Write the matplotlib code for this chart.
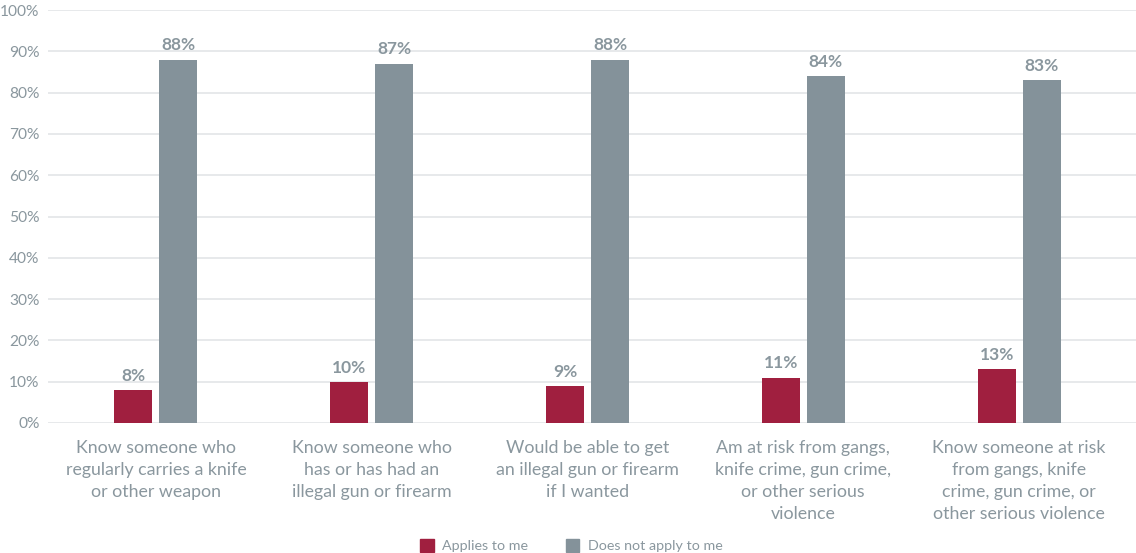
import matplotlib
matplotlib.use("Agg")
import matplotlib.pyplot as plt
import numpy as np
from matplotlib.patches import Patch

categories = [
    "Know someone who\nregularly carries a knife\nor other weapon",
    "Know someone who\nhas or has had an\nillegal gun or firearm",
    "Would be able to get\nan illegal gun or firearm\nif I wanted",
    "Am at risk from gangs,\nknife crime, gun crime,\nor other serious\nviolence",
    "Know someone at risk\nfrom gangs, knife\ncrime, gun crime, or\nother serious violence",
]
applies = [8, 10, 9, 11, 13]
not_applies = [88, 87, 88, 84, 83]
series_names = ["Applies to me", "Does not apply to me"]
yticks = [0, 10, 20, 30, 40, 50, 60, 70, 80, 90, 100]

RED = "#A01F3F"
GREY = "#84929A"
TXT = "#8A979E"

plt.rcParams['font.family'] = ['Lato', 'DejaVu Sans']

fig = plt.figure(figsize=(11.36, 5.53), dpi=100)
ax = fig.add_axes([48/1136, 130/553, (1136-48)/1136, 413/553])

x = np.arange(len(categories))
w = 0.176
off = 0.104
b1 = ax.bar(x - off, applies, w, color=RED, zorder=3)
b2 = ax.bar(x + off, not_applies, w, color=GREY, zorder=3)

for bars, vals in ((b1, applies), (b2, not_applies)):
    for r, v in zip(bars, vals):
        ax.text(r.get_x() + r.get_width()/2, v + 1.5, f"{v}%", ha='center', va='bottom',
                fontsize=12.5, fontweight='bold', color=TXT)

ax.set_ylim(0, 100)
ax.set_xlim(-0.5, len(categories) - 0.5 + 9/215.75)
ax.set_yticks(yticks)
ax.set_yticklabels([f"{t}%" for t in yticks], fontsize=11.2, color=TXT)
ax.set_xticks(x)
ax.set_xticklabels(categories, fontsize=12.8, color=TXT, linespacing=1.48, va='top')
ax.tick_params(axis='both', length=0)
ax.tick_params(axis='x', pad=12)
ax.tick_params(axis='y', pad=6)
ax.grid(axis='y', color='#E3E5E7', linewidth=1.2, zorder=0)
for s in ax.spines.values():
    s.set_visible(False)

handles = [Patch(color=RED), Patch(color=GREY)]
fig.legend(handles, series_names, loc='lower center', bbox_to_anchor=(0.503, -0.022), ncol=2,
           frameon=False, fontsize=10.3, labelcolor=TXT, handlelength=0.95, handleheight=1.0,
           handletextpad=0.6, columnspacing=2.6)

fig.savefig("out.png", dpi=100)
